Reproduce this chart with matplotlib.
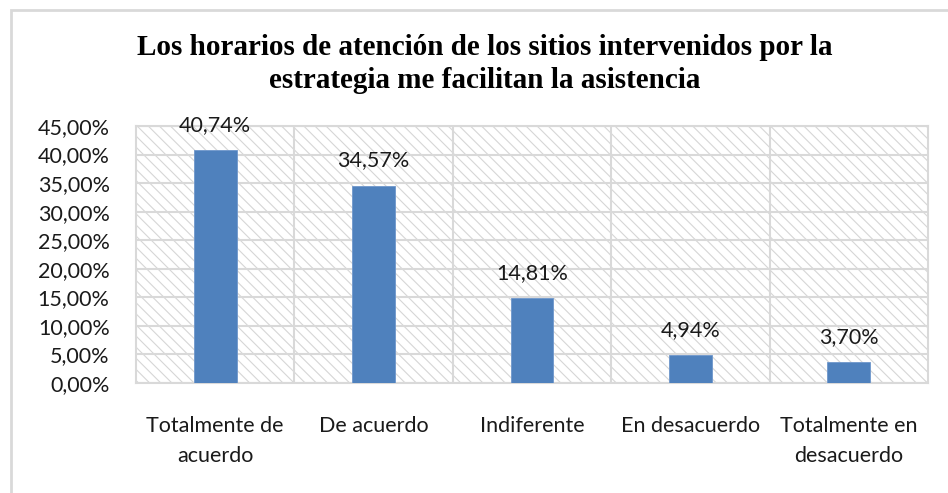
import numpy as np
import matplotlib.pyplot as plt
from matplotlib.patches import Rectangle
from matplotlib.ticker import MultipleLocator, FuncFormatter

# data
categories = ["Totalmente de\nacuerdo", "De acuerdo", "Indiferente",
              "En desacuerdo", "Totalmente en\ndesacuerdo"]
values = [40.74, 34.57, 14.81, 4.94, 3.70]
title = ("Los horarios de atención de los sitios intervenidos por la\n"
         "estrategia me facilitan la asistencia")

W, H = 948, 493
plt.rcParams["hatch.linewidth"] = 0.8
plt.rcParams["font.family"] = ["Lato", "DejaVu Sans"]

fig = plt.figure(figsize=(W / 100, H / 100), dpi=100)
fig.patch.set_facecolor("white")

# outer chart frame (runs off the right and bottom edges)
fig.patches.append(Rectangle((11 / W, -0.1), 1.2, 1 - 10 / H + 0.1,
                             transform=fig.transFigure, fill=False,
                             edgecolor="#d9d9d9", linewidth=2, zorder=0))

ax = fig.add_axes([136 / W, (H - 383) / H, (928 - 136) / W, (383 - 126) / H])
ax.patch.set_facecolor("white")
# diagonal hatch fill of the plot area
ax.add_patch(Rectangle((0, 0), 1, 1, transform=ax.transAxes, fill=False,
                       hatch="\\\\\\", edgecolor="#d6d6d6", linewidth=0,
                       zorder=0))

x = np.arange(len(categories))
bars = ax.bar(x, values, width=0.27, color="#4f81bd", edgecolor="#6f97cc",
              linewidth=0.6, zorder=3)

for b, v in zip(bars, values):
    ax.text(b.get_x() + b.get_width() / 2, v + 4.4,
            f"{v:.2f}%".replace(".", ","), ha="center", va="center",
            fontsize=15.5, color="#1a1a1a", zorder=4)

ax.set_xlim(-0.5, len(categories) - 0.5)
ax.set_ylim(0, 45)
ax.yaxis.set_major_locator(MultipleLocator(5))
ax.yaxis.set_major_formatter(FuncFormatter(lambda v, p: f"{v:.2f}%".replace(".", ",")))
ax.set_xticks(x)
ax.set_xticklabels(categories, fontsize=15.5, color="#1a1a1a", linespacing=1.6)
ax.tick_params(axis="y", labelsize=15.5, colors="#1a1a1a", length=0, pad=19)
ax.tick_params(axis="x", length=0, pad=24)

ax.grid(axis="y", color="#d9d9d9", linewidth=1.5, zorder=1)
for b in np.arange(0.5, len(categories) - 1, 1.0):
    ax.axvline(b, color="#d9d9d9", linewidth=1.5, zorder=1)
for s in ax.spines.values():
    s.set_color("#d9d9d9")
    s.set_linewidth(1.5)

fig.text(485 / W, 1 - 64 / H, title, ha="center", va="center",
         fontsize=21, fontweight="bold", family=["Liberation Serif"],
         linespacing=1.3, color="black")

fig.savefig("out.png", dpi=100)
